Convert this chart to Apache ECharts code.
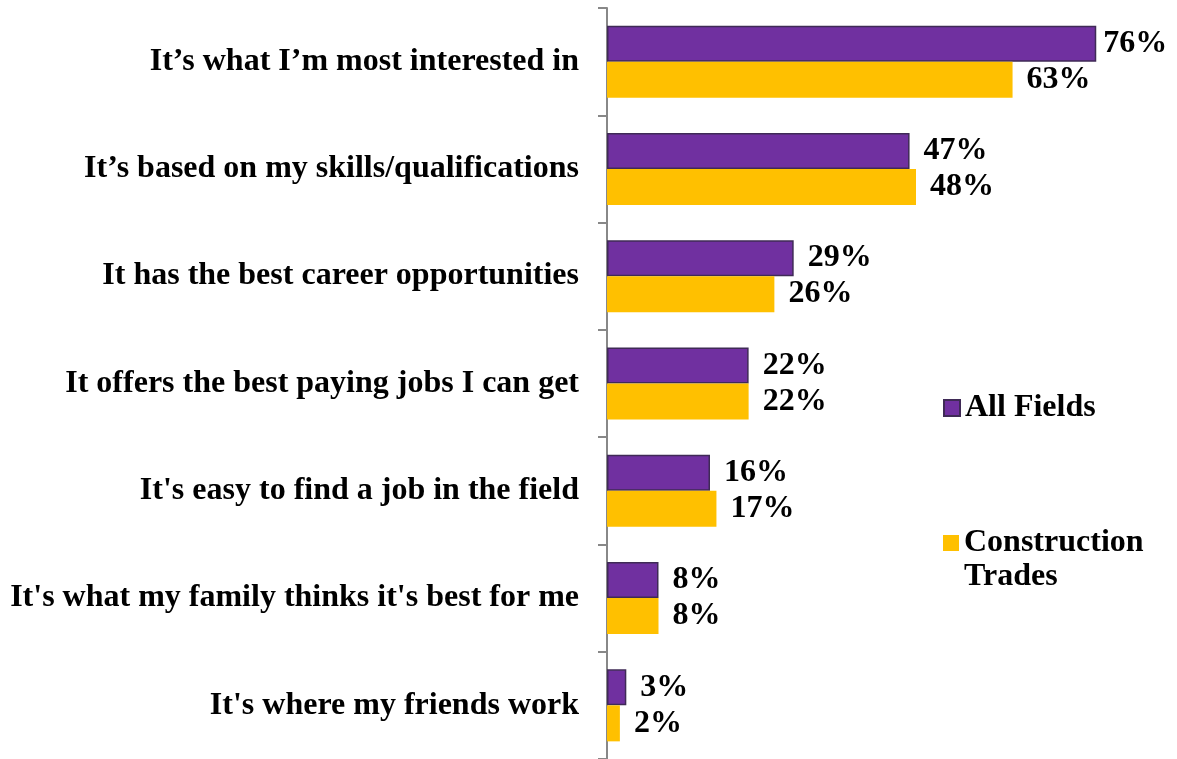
<!DOCTYPE html>
<html>
<head>
<meta charset="utf-8">
<script src="https://cdn.jsdelivr.net/npm/echarts@6/dist/echarts.min.js"></script>
<style>html,body{margin:0;padding:0;background:#fff}#c{width:1177px;height:759px}</style>
</head>
<body>
<div id="c"></div>
<script>
const categories = [
  "It\u2019s what I\u2019m most interested in",
  "It\u2019s based on my skills/qualifications",
  "It has the best career opportunities",
  "It offers the best paying jobs I can get",
  "It's easy to find a job in the field",
  "It's what my family thinks it's best for me",
  "It's where my friends work"
];
const allFields = [76, 47, 29, 22, 16, 8, 3];
const construction = [63, 48, 26, 22, 17, 8, 2];
const seriesNames = ["All Fields", "Construction Trades"];

const FONT = "'Liberation Serif', 'Times New Roman', serif";
const chart = echarts.init(document.getElementById('c'), null, {renderer: 'canvas'});
const labelStyle = {
  show: true, position: 'right', distance: 14,
  formatter: '{c}%', color: '#000', fontFamily: FONT, fontWeight: 'bold', fontSize: 32
};
// the largest value label sits closer to its bar (as in the original)
const maxVal = Math.max.apply(null, allFields.concat(construction));
function withLabels(arr) {
  return arr.map(v => v === maxVal ? {value: v, label: {distance: 7}} : v);
}
chart.setOption({
  animation: false,
  grid: {left: 607, top: 8, width: 515, height: 752, containLabel: false},
  xAxis: {type: 'value', min: 0, max: 80, show: false},
  yAxis: {
    type: 'category', data: categories, inverse: true,
    axisLine: {show: true, lineStyle: {color: '#888888', width: 2}},
    axisTick: {show: true, length: 9, lineStyle: {color: '#888888', width: 2}},
    axisLabel: {margin: 28, color: '#000', fontFamily: FONT, fontWeight: 'bold', fontSize: 32},
    splitLine: {show: false}
  },
  legend: [
    {
      data: [seriesNames[0]], left: 938, top: 387, orient: 'vertical',
      itemWidth: 16, itemHeight: 16, icon: 'rect',
      textStyle: {color: '#000', fontFamily: FONT, fontWeight: 'bold', fontSize: 32}
    },
    {
      data: [seriesNames[1]], left: 938, top: 487, orient: 'vertical',
      itemWidth: 16, itemHeight: 16, icon: 'rect',
      formatter: function () { return '\nConstruction\nTrades'; },
      textStyle: {color: '#000', fontFamily: FONT, fontWeight: 'bold', fontSize: 32, lineHeight: 34}
    }
  ],
  series: [
    {
      name: seriesNames[0], type: 'bar', data: withLabels(allFields),
      barWidth: 36, barGap: '0%',
      itemStyle: {color: '#7030A0', borderColor: '#3F2A56', borderWidth: 1.5},
      label: labelStyle
    },
    {
      name: seriesNames[1], type: 'bar', data: withLabels(construction),
      barWidth: 36, barGap: '0%',
      itemStyle: {color: '#FFC000'},
      label: labelStyle
    }
  ]
});
</script>
</body>
</html>
